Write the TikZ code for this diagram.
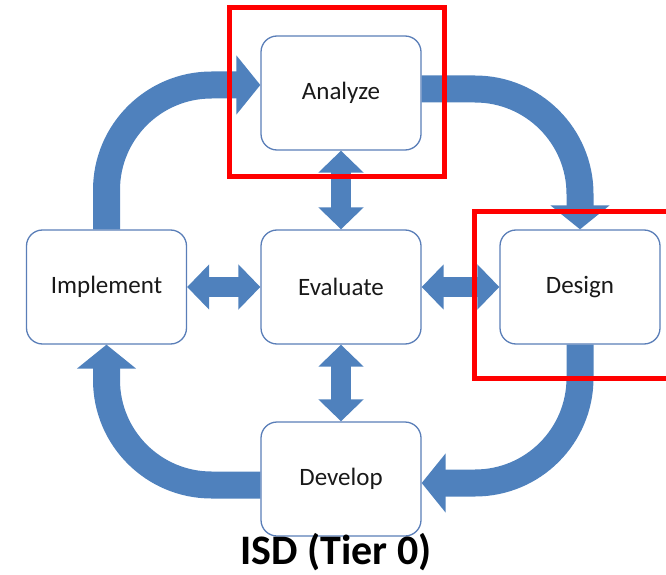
\documentclass[tikz,border=0pt]{standalone}
\usepackage{fontspec}
\setmainfont{Carlito}
\usepackage{xcolor}
\usepackage{tikz}
\usetikzlibrary{arrows.meta}
\definecolor{azul}{HTML}{4F81BD}
\definecolor{borde}{HTML}{5A7EB8}
\definecolor{rojo}{HTML}{FF0000}

\begin{document}
\begin{tikzpicture}[x=1pt, y=1pt,
        fase/.style={draw=borde, line width=1.3pt, fill=white, rounded corners=16pt, minimum width=160pt, minimum height=114pt, text=black!90, font=\fontsize{25}{29}\selectfont},
        ciclo/.style={draw=azul, line width=27pt, rounded corners=105pt, -{Triangle[length=24pt, width=58pt]}},
        doble/.style={draw=azul, line width=20pt, {Triangle[length=22pt, width=44pt]}-{Triangle[length=22pt, width=44pt]}},
        marco/.style={draw=rojo, line width=5pt}]
        \useasboundingbox (0,0) rectangle (666,574);
        % Fases del ciclo
        \node[fase] (ana) at (341,481) {Analyze};
        \node[fase] (eva) at (341,287) {Evaluate};
        \node[fase] (imp) at (106.5,287) {Implement};
        \node[fase] (dis) at (580,287) {Design};
        \node[fase] (dev) at (341,95) {Develop};
        % Flechas curvas del ciclo
        \draw[ciclo] (imp.north) |- ([yshift=8pt]ana.west);
        \draw[ciclo] ([yshift=4pt]ana.east) -| (dis.north);
        \draw[ciclo] (dis.south) |- ([yshift=-4pt]dev.east);
        \draw[ciclo] ([yshift=-6pt]dev.west) -| (imp.south);
        % Flechas dobles hacia Evaluate
        \draw[doble] (ana.south) -- (eva.north);
        \draw[doble] (eva.south) -- (dev.north);
        \draw[doble] (imp.east) -- (eva.west);
        \draw[doble] (eva.east) -- (dis.west);
        % Marcos rojos
        \draw[marco] (229,566) rectangle (444,397);
        \draw[marco] (474,363) rectangle (690,196);
        % Titulo
        \node[font=\fontsize{42}{48}\selectfont\bfseries, anchor=base] (titulo) at (336,10) {ISD (Tier 0)};
    \end{tikzpicture}
\end{document}
